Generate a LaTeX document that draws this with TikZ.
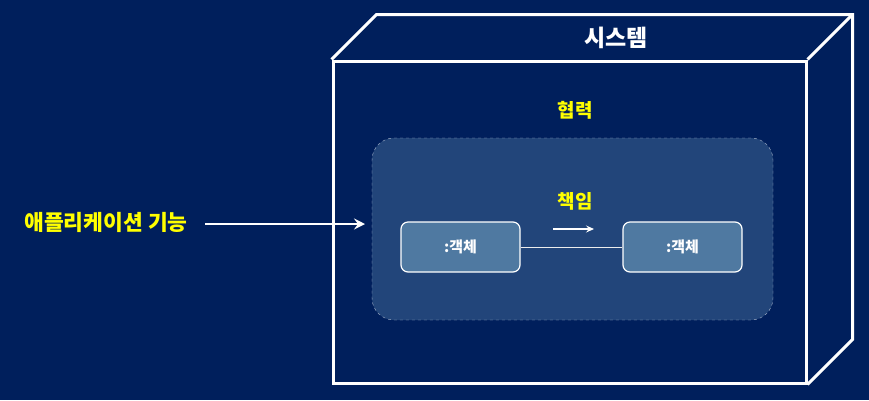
\documentclass[tikz,border=0pt]{standalone}
\usepackage{fontspec}
\setmainfont{Noto Sans CJK KR}
\usepackage{tikz}
\usetikzlibrary{arrows.meta,positioning,calc}
\definecolor{NightBlue}{HTML}{001F5C}
\definecolor{CollabBlue}{HTML}{22457A}
\definecolor{ObjBlue}{HTML}{4F79A1}
\definecolor{DashGray}{HTML}{A9B6CC}
\definecolor{LabelYellow}{HTML}{FFFF00}

\begin{document}
\begin{tikzpicture}[x=1pt, y=-1pt, every node/.style={font=\bfseries}]
\tikzset{sysface/.style={draw=white, line width=3pt, minimum width=473pt, minimum height=322pt, inner sep=0pt}}
\tikzset{collab/.style={draw=DashGray, dashed, fill=CollabBlue, rounded corners=22pt, minimum width=401pt, minimum height=182pt, inner sep=0pt}}
\tikzset{objbox/.style={draw=white, line width=1.2pt, fill=ObjBlue, rounded corners=7pt, minimum width=119pt, minimum height=50pt, text=white, font=\bfseries\fontsize{15}{18}\selectfont}}
\tikzset{label/.style={text=LabelYellow, font=\bfseries\fontsize{19}{22}\selectfont}}
\tikzset{arrow/.style={-{Stealth[length=11pt, width=11pt, inset=4pt]}, white, line width=2.5pt}}
\fill[NightBlue] (0,0) rectangle (869,400);
\useasboundingbox (0,0) rectangle (869,400);
% the system drawn as a 3D box
\node[sysface] (system) at (569.5,222) {};
\coordinate (topleft) at ($(system.north west)+(45,-45)$);
\coordinate (topright) at ($(system.north east)+(45,-45)$);
\coordinate (backbottom) at ($(system.south east)+(45,-45)$);
\draw[white, line width=3pt, line join=miter] (system.north west) -- (topleft) -- (topright) -- (backbottom) -- (system.south east);
\draw[white, line width=3pt] (topright) -- (system.north east);
\node[text=white, font=\bfseries\fontsize{23}{27}\selectfont] (systitle) at (616,38) {시스템};
\node[label] (collabtitle) at (575,110) {협력};
\node[collab] (collab) at (572.5,229) {};
\node[objbox] (objA) at (460.5,247) {:객체};
\node[objbox] (objB) at (682.5,247) {:객체};
\draw[white!85!gray, line width=1pt] (objA) -- (objB);
\node[label] (duty) at (575,201) {책임};
\coordinate (dutystart) at (553,229);
\coordinate (dutyend) at (594,229);
\draw[-{Stealth[length=8pt, width=7pt, inset=3pt]}, white, line width=1.2pt] (dutystart) -- (dutyend);
\node[label, font=\bfseries\fontsize{21.5}{25}\selectfont] (feature) at (106,222) {애플리케이션 기능};
\coordinate (featurestart) at (205,224);
\coordinate (featureend) at (365,224);
\draw[arrow] (featurestart) -- (featureend);
\end{tikzpicture}
\end{document}
